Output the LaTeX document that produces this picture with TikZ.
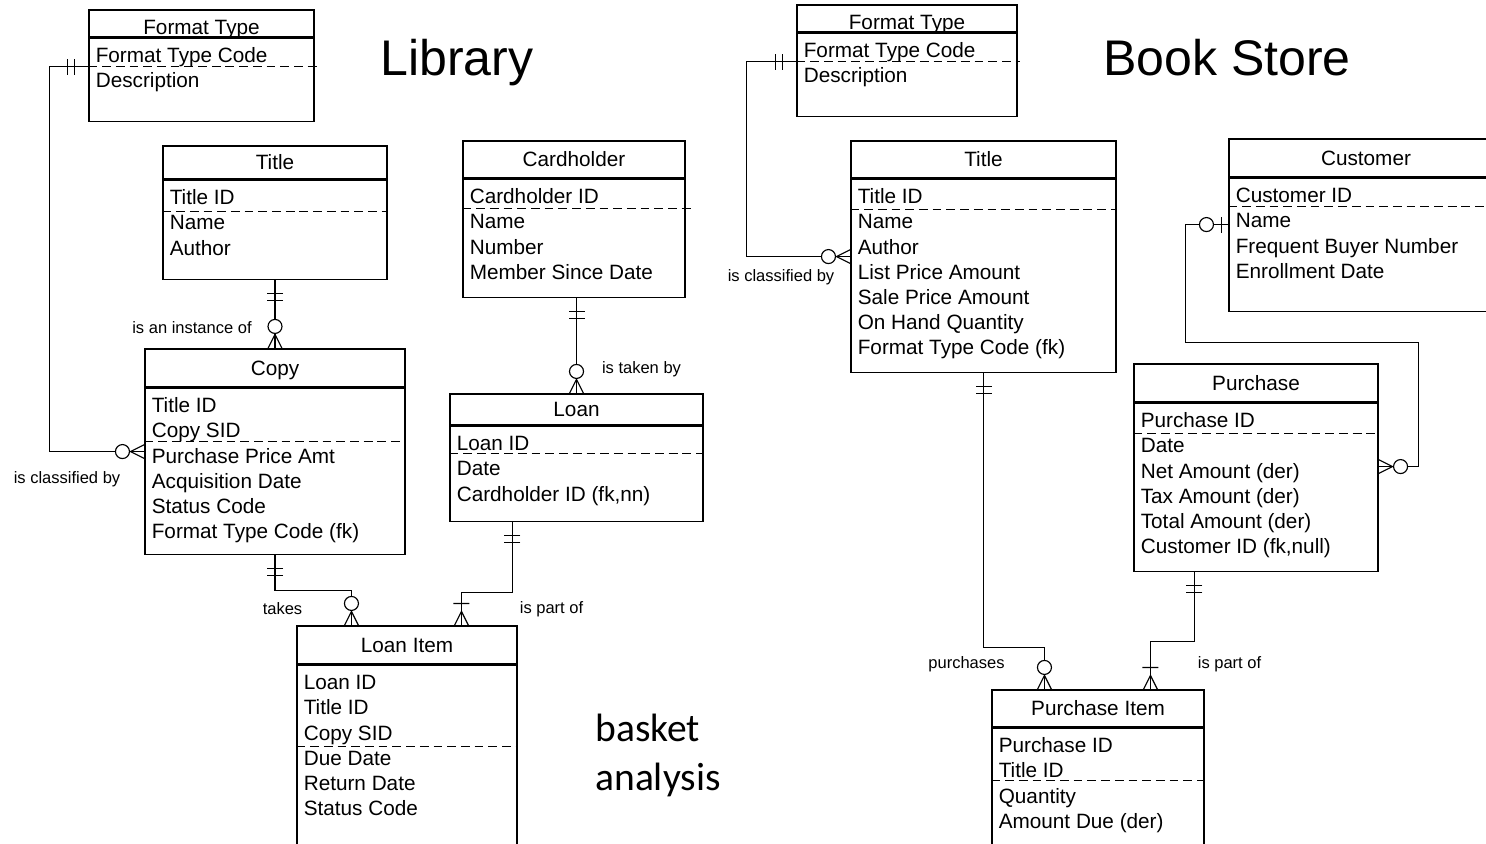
\documentclass[tikz,border=0pt]{standalone}
\usepackage{fontspec}
\setmainfont{Liberation Sans}
\newfontfamily\basketfont{Carlito}
\usepackage{tikz}
\usetikzlibrary{positioning, calc}
\tikzset{
	enthead/.style={rectangle, draw=black, line width=0.65pt, inner sep=0pt, text height=8.4pt, text depth=0pt, font=\fontsize{11.8}{14}\selectfont},
	entbody/.style={rectangle, draw=black, line width=0.65pt, inner sep=0pt},
	attr/.style={anchor=base west, inner sep=0pt, font=\fontsize{11.8}{14}\selectfont},
	pkline/.style={dash pattern=on 5pt off 2.8pt, line width=0.7pt},
	conn/.style={line width=0.65pt},
	rel/.style={anchor=base, inner sep=0pt, font=\fontsize{9.4}{11}\selectfont},
	bigtitle/.style={anchor=base, inner sep=0pt, font=\fontsize{28.5}{34}\selectfont},
	note/.style={anchor=base west, inner sep=0pt, font=\basketfont\fontsize{22.5}{27}\selectfont},
	% cardinality marks, drawn pointing away from the entity
	mand/.pic={\draw[conn] (14,-8) -- (14,8) (21,-8) -- (21,8);},
	zmany/.pic={\draw[conn] (0,-7) -- (14,0) -- (0,7); \draw[conn, fill=white] (22,0) circle[radius=7];},
	omany/.pic={\draw[conn] (0,-7) -- (14,0) -- (0,7) (22,-8) -- (22,8);},
	zone/.pic={\draw[conn] (7,-8) -- (7,8); \draw[conn, fill=white] (22,0) circle[radius=7];},
}
\begin{document}
\begin{tikzpicture}[x=0.02cm, y=-0.02cm]
	\clip (0,0) rectangle (1486,844);
	% ---- Library ----
	\node[bigtitle] (libt) at (457,76) {Library};
	\node[enthead, text height=12.4pt, minimum width=4.5cm, minimum height=0.54cm] (lft) at (201.5,23.5) {Format Type};
	\node[entbody, minimum width=4.5cm, minimum height=1.66cm, below=0pt of lft] (lftb) {};
	\foreach \t [count=\i] in {Format Type Code, Description}
		\node[attr] at ($(lftb.north west)+(7,25.2*\i)$) {\t};
	\draw[pkline] ($(lftb.north west)+(0,29)$) -- ($(lftb.north east)+(2,29)$);

	\node[enthead, minimum width=4.48cm, minimum height=0.66cm] (ltitle) at (275,162.5) {Title};
	\node[entbody, minimum width=4.48cm, minimum height=1.98cm, below=0pt of ltitle] (ltitleb) {};
	\foreach \t [count=\i] in {Title ID, Name, Author}
		\node[attr] at ($(ltitleb.north west)+(7,25.2*\i)$) {\t};
	\draw[pkline] ($(ltitleb.north west)+(0,32)$) -- ($(ltitleb.north east)+(0,32)$);

	\node[enthead, minimum width=4.44cm, minimum height=0.74cm] (lcard) at (574,159.5) {Cardholder};
	\node[entbody, minimum width=4.44cm, minimum height=2.36cm, below=0pt of lcard] (lcardb) {};
	\foreach \t [count=\i] in {Cardholder ID, Name, Number, Member Since Date}
		\node[attr] at ($(lcardb.north west)+(7,25.2*\i)$) {\t};
	\draw[pkline] ($(lcardb.north west)+(0,30)$) -- ($(lcardb.north east)+(6,30)$);

	\node[enthead, minimum width=5.2cm, minimum height=0.76cm] (lcopy) at (275,368) {Copy};
	\node[entbody, minimum width=5.2cm, minimum height=3.32cm, below=0pt of lcopy] (lcopyb) {};
	\foreach \t [count=\i] in {Title ID, Copy SID, Purchase Price Amt, Acquisition Date, Status Code, Format Type Code (fk)}
		\node[attr] at ($(lcopyb.north west)+(7,25.2*\i)$) {\t};
	\draw[pkline] ($(lcopyb.north west)+(0,54)$) -- ($(lcopyb.north east)+(0,54)$);

	\node[enthead, minimum width=5.06cm, minimum height=0.62cm] (lloan) at (576.5,409.5) {Loan};
	\node[entbody, minimum width=5.06cm, minimum height=1.9cm, below=0pt of lloan] (lloanb) {};
	\foreach \t [count=\i] in {Loan ID, Date, {Cardholder ID (fk,nn)}}
		\node[attr] at ($(lloanb.north west)+(7,25.2*\i)$) {\t};
	\draw[pkline] ($(lloanb.north west)+(0,28)$) -- ($(lloanb.north east)+(0,28)$);

	\node[enthead, minimum width=4.4cm, minimum height=0.76cm] (litem) at (407,645) {Loan Item};
	\node[entbody, minimum width=4.4cm, minimum height=4cm, below=0pt of litem] (litemb) {};
	\foreach \t [count=\i] in {Loan ID, Title ID, Copy SID, Due Date, Return Date, Status Code}
		\node[attr] at ($(litemb.north west)+(7,25.2*\i)$) {\t};
	\draw[pkline] ($(litemb.north west)+(0,82)$) -- ($(litemb.north east)+(0,82)$);

	\node[note] (bsk) at (595,741) {basket};
	\node[note] (bsk2) at (595,790) {analysis};

	\draw[conn] ($(lftb.north west)+(0,29)$) -- ++(-39,0) |- ($(lcopyb.north west)+(0,64)$);
	\pic[rotate=180] at ($(lftb.north west)+(0,29)$) {mand};
	\pic[rotate=180] at ($(lcopyb.north west)+(0,64)$) {zmany};
	\node[rel] at (67,483) {is classified by};

	\draw[conn] (ltitleb.south) -- (lcopy.north);
	\pic[rotate=-90] at (ltitleb.south) {mand};
	\pic[rotate=90] at (lcopy.north) {zmany};
	\node[rel] at (192,333) {is an instance of};

	\draw[conn] (lcardb.south -| lloan.north) -- (lloan.north);
	\pic[rotate=-90] at (lcardb.south -| lloan.north) {mand};
	\pic[rotate=90] at (lloan.north) {zmany};
	\node[rel] at (641.5,373) {is taken by};

	\draw[conn] (lcopyb.south) -- ++(0,36) -| ($(litem.north west)+(55,0)$);
	\pic[rotate=-90] at (lcopyb.south) {mand};
	\pic[rotate=90] at ($(litem.north west)+(55,0)$) {zmany};
	\node[rel] at (282.5,614) {takes};

	\draw[conn] ($(lloanb.south west)+(63,0)$) -- ++(0,71) -| ($(litem.north west)+(165,0)$);
	\pic[rotate=-90] at ($(lloanb.south west)+(63,0)$) {mand};
	\pic[rotate=90] at ($(litem.north west)+(165,0)$) {omany};
	\node[rel] at (551.5,613) {is part of};

	% ---- Book Store ----
	\node[bigtitle] (bst) at (1227,76) {Book Store};
	\node[enthead, text height=12.4pt, minimum width=4.4cm, minimum height=0.54cm] (bft) at (907,18.5) {Format Type};
	\node[entbody, minimum width=4.4cm, minimum height=1.66cm, below=0pt of bft] (bftb) {};
	\foreach \t [count=\i] in {Format Type Code, Description}
		\node[attr] at ($(bftb.north west)+(7,25.2*\i)$) {\t};
	\draw[pkline] ($(bftb.north west)+(0,29)$) -- ($(bftb.north east)+(2,29)$);

	\node[enthead, minimum width=5.3cm, minimum height=0.74cm] (btitle) at (983.5,159.5) {Title};
	\node[entbody, minimum width=5.3cm, minimum height=3.86cm, below=0pt of btitle] (btitleb) {};
	\foreach \t [count=\i] in {Title ID, Name, Author, List Price Amount, Sale Price Amount, On Hand Quantity, Format Type Code (fk)}
		\node[attr] at ($(btitleb.north west)+(7,25.2*\i)$) {\t};
	\draw[pkline] ($(btitleb.north west)+(0,31)$) -- ($(btitleb.north east)+(0,31)$);

	\node[enthead, minimum width=5.48cm, minimum height=0.76cm] (bcust) at (1366,158) {Customer};
	\node[entbody, minimum width=5.48cm, minimum height=2.66cm, below=0pt of bcust] (bcustb) {};
	\foreach \t [count=\i] in {Customer ID, Name, Frequent Buyer Number, Enrollment Date}
		\node[attr] at ($(bcustb.north west)+(7,25.2*\i)$) {\t};
	\draw[pkline] ($(bcustb.north west)+(0,29)$) -- ($(bcustb.north east)+(0,29)$);

	\node[enthead, minimum width=4.88cm, minimum height=0.76cm] (bpur) at (1256,383) {Purchase};
	\node[entbody, minimum width=4.88cm, minimum height=3.36cm, below=0pt of bpur] (bpurb) {};
	\foreach \t [count=\i] in {Purchase ID, Date, Net Amount (der), Tax Amount (der), Total Amount (der), {Customer ID (fk,null)}}
		\node[attr] at ($(bpurb.north west)+(7,25.2*\i)$) {\t};
	\draw[pkline] ($(bpurb.north west)+(0,31)$) -- ($(bpurb.north east)+(0,31)$);

	\node[enthead, minimum width=4.24cm, minimum height=0.74cm] (bitem) at (1098,708.5) {Purchase Item};
	\node[entbody, minimum width=4.24cm, minimum height=3cm, below=0pt of bitem] (bitemb) {};
	\foreach \t [count=\i] in {Purchase ID, Title ID, Quantity, Amount Due (der)}
		\node[attr] at ($(bitemb.north west)+(7,25.2*\i)$) {\t};
	\draw[pkline] ($(bitemb.north west)+(0,53)$) -- ($(bitemb.north east)+(0,53)$);

	\draw[conn] ($(bftb.north west)+(0,29)$) -- ++(-50,0) |- ($(btitleb.north west)+(0,78)$);
	\pic[rotate=180] at ($(bftb.north west)+(0,29)$) {mand};
	\pic[rotate=180] at ($(btitleb.north west)+(0,78)$) {zmany};
	\node[rel] at (781,282) {is classified by};

	\draw[conn] ($(bcustb.north west)+(0,47)$) -- ++(-43,0) |- ($(bpurb.north east)+(40,-60)$) |- ($(bpurb.north east)+(0,64)$);
	\pic[rotate=180] at ($(bcustb.north west)+(0,47)$) {zone};
	\pic at ($(bpurb.north east)+(0,64)$) {zmany};

	\draw[conn] (btitleb.south) -- ++(0,275) -| ($(bitem.north west)+(53,0)$);
	\pic[rotate=-90] at (btitleb.south) {mand};
	\pic[rotate=90] at ($(bitem.north west)+(53,0)$) {zmany};
	\node[rel] at (966.5,668) {purchases};

	\draw[conn] ($(bpurb.south west)+(61,0)$) -- ++(0,70) -| ($(bitem.north west)+(159,0)$);
	\pic[rotate=-90] at ($(bpurb.south west)+(61,0)$) {mand};
	\pic[rotate=90] at ($(bitem.north west)+(159,0)$) {omany};
	\node[rel] at (1229.5,668) {is part of};
\end{tikzpicture}
\end{document}
